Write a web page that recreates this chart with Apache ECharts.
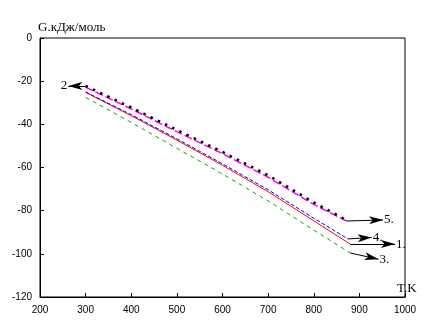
<!DOCTYPE html>
<html>
<head>
<meta charset="utf-8">
<script src="https://cdn.jsdelivr.net/npm/echarts@6/dist/echarts.min.js"></script>
<style>
  html, body { margin: 0; padding: 0; background: #fff; }
</style>
</head>
<body>
<div id="chart" style="width:425px;height:328px"></div>
<script>
// T, K and G, kJ/mol for every curve
const t1 = [300, 400, 500, 600, 700, 800, 880]
const g1 = [-25.2, -36, -47.3, -59, -71.2, -84.7, -95.5]
const t2 = [300, 400, 500, 600, 700, 800, 870]
const g2 = [-22.2, -32.2, -42.6, -52.8, -63.6, -76.2, -84.2]
const t3 = [300, 400, 500, 600, 700, 800, 880]
const g3 = [-27.5, -39.1, -51.1, -63, -75.5, -89, -99.6]
const t4 = [300, 400, 500, 600, 700, 800, 875]
const g4 = [-25, -35.5, -46.7, -58.3, -70.3, -83.5, -93.1]
const t5 = [300, 400, 500, 600, 700, 800, 872]
const g5 = [-22.8, -32.9, -43.4, -53.6, -64.5, -77.1, -84.8]

// curve labels and where their arrows point to
const curveNames = ['1.', '2', '3.', '4.', '5.']
const arrowT = [978, 262, 942, 927, 952]
const arrowG = [-95.5, -22.2, -102.5, -92.4, -84.3]

const xTicks = [200, 300, 400, 500, 600, 700, 800, 900, 1000]
const yTicks = [-120, -100, -80, -60, -40, -20, 0]

function pairs (t, g) {
  return t.map((v, i) => [v, g[i]])
}

// arrow from a curve point to its label
function arrow (idx, fromT, fromG) {
  return {
    silent: true,
    symbol: ['none', 'arrow'],
    symbolSize: [6, 14],
    lineStyle: { color: '#000', width: 1, type: 'solid' },
    label: {
      show: true,
      position: 'end',
      distance: 1,
      formatter: curveNames[idx],
      color: '#000',
      fontFamily: 'Liberation Serif',
      fontSize: 13
    },
    labelLayout: { hideOverlap: false },
    data: [[
      { coord: [fromT, fromG] },
      { coord: [arrowT[idx], arrowG[idx]] }
    ]]
  }
}

const last = (a) => a[a.length - 1]
const axisFont = { color: '#000', fontFamily: 'Liberation Sans', fontSize: 10 }

const myChart = echarts.init(document.getElementById('chart'))
myChart.setOption({
  animation: false,
  grid: {
    left: 40,
    right: 20,
    top: 38,
    bottom: 31,
    show: true,
    borderColor: '#000',
    borderWidth: 1
  },
  xAxis: {
    type: 'value',
    min: xTicks[0],
    max: last(xTicks),
    interval: 100,
    name: 'T.K',
    nameLocation: 'end',
    nameGap: -8,
    nameTextStyle: {
      color: '#000',
      fontFamily: 'Liberation Serif',
      fontSize: 13,
      verticalAlign: 'bottom',
      padding: [0, 0, 2, 0]
    },
    splitLine: { show: false },
    axisLine: { onZero: false, lineStyle: { color: '#000', width: 1 } },
    axisTick: { inside: true, length: 4, lineStyle: { color: '#000' } },
    axisLabel: Object.assign({ margin: 8, formatter: (v) => String(v) }, axisFont)
  },
  yAxis: {
    type: 'value',
    min: yTicks[0],
    max: last(yTicks),
    interval: 20,
    name: 'G.кДж/моль',
    nameLocation: 'end',
    nameGap: 4,
    nameTextStyle: {
      color: '#000',
      fontFamily: 'Liberation Serif',
      fontSize: 13,
      align: 'left',
      padding: [0, 0, 0, -2]
    },
    splitLine: { show: false },
    axisLine: { onZero: false, lineStyle: { color: '#000', width: 1 } },
    axisTick: { inside: true, length: 4, lineStyle: { color: '#000' } },
    axisLabel: Object.assign({ margin: 8 }, axisFont)
  },
  series: [
    {
      name: '3',
      type: 'line',
      showSymbol: false,
      lineStyle: { color: '#00b000', width: 1, type: [4, 4] },
      data: pairs(t3, g3),
      markLine: arrow(2, last(t3), last(g3))
    },
    {
      name: '1',
      type: 'line',
      showSymbol: false,
      lineStyle: { color: '#ff0000', width: 1 },
      data: pairs(t1, g1),
      markLine: arrow(0, last(t1), last(g1))
    },
    {
      name: '4',
      type: 'line',
      showSymbol: false,
      lineStyle: { color: '#0000ff', width: 1, type: [4, 2] },
      data: pairs(t4, g4),
      markLine: arrow(3, last(t4), last(g4))
    },
    {
      name: '5',
      type: 'line',
      showSymbol: false,
      lineStyle: { color: '#ff00ff', width: 1.5, type: [8, 3] },
      data: pairs(t5, g5),
      markLine: arrow(4, last(t5), last(g5))
    },
    {
      name: '2',
      type: 'line',
      showSymbol: false,
      lineStyle: { color: '#000', width: 2.5, type: [2.5, 5.5], cap: 'butt' },
      data: pairs(t2, g2),
      markLine: arrow(1, t2[0], g2[0])
    }
  ]
})
</script>
</body>
</html>
